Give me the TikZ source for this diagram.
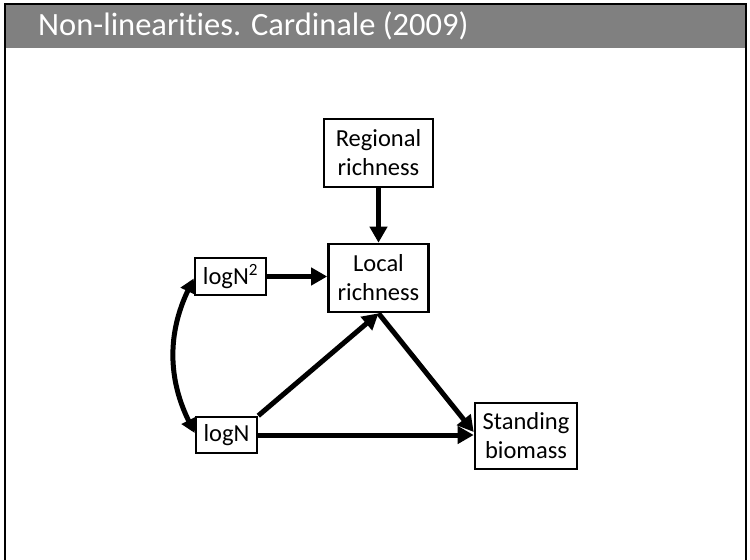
\documentclass[tikz,border=0pt]{standalone}
\usepackage{fontspec}
\setmainfont{Carlito}[Ligatures=NoCommon]
\usetikzlibrary{arrows.meta,calc}
\begin{document}
\begin{tikzpicture}[x=1bp,y=-1bp,
  box/.style={draw=black, line width=2.6bp, fill=white, align=center,
    inner sep=0pt, font=\fontsize{24.5bp}{29bp}\selectfont},
  link/.style={line width=5bp, -{Triangle[length=16bp,width=17bp]}},
  twoway/.style={line width=5bp, {Triangle[length=14bp,width=15bp]}-{Triangle[length=14bp,width=15bp]}}]
  \useasboundingbox (0,0) rectangle (750,560);
  % slide frame with title bar
  \fill[gray] (5,4) rectangle (746,48);
  \draw[line width=2.5bp] (5,560) -- (5,4) -- (746,4) -- (746,560);
  \node[anchor=base west, text=white, inner sep=0pt,
    font=\fontsize{32.5bp}{38bp}\selectfont] (title) at (38,35.5)
    {Non-linearities. Cardinale (2009)};
  % variables
  \node[box, minimum width=109bp, minimum height=68bp] (reg) at (378.5,153) {Regional\\richness};
  \node[box, minimum width=100bp, minimum height=68bp] (loc) at (378.5,278) {Local\\richness};
  \node[box, minimum width=71bp, minimum height=37bp] (lsq) at (230.5,276.5) {logN\textsuperscript{2}};
  \node[box, minimum width=61bp, minimum height=36bp] (ln) at (226.5,435) {logN};
  \node[box, minimum width=102bp, minimum height=66bp] (bio) at (526,436) {Standing\\biomass};
  % paths
  \draw[link] (reg) -- (loc);
  \draw[link] (lsq) -- (loc.west |- lsq);
  \draw[link] (ln.north east) -- (loc.south);
  \draw[link] (loc.south) -- ($(bio.west)+(0,-4)$);
  \draw[link] (ln) -- (bio.west |- ln);
  \draw[twoway] ($(lsq.west)+(0,2)$) to[bend right=26] ($(ln.west)+(0,-2)$);
\end{tikzpicture}
\end{document}
